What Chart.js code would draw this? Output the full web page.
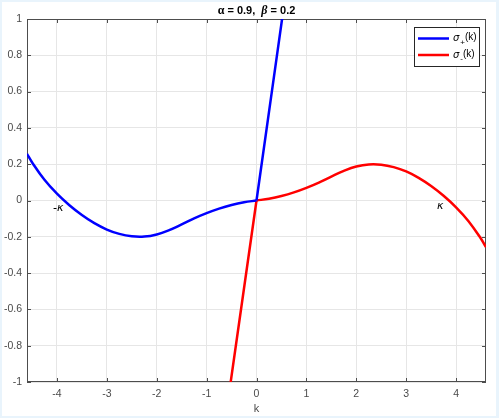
<!DOCTYPE html>
<html>
<head>
<meta charset="utf-8">
<script src="https://cdn.jsdelivr.net/npm/chart.js@4/dist/chart.umd.min.js"></script>
<style>
  html, body { margin: 0; padding: 0; background: #fff; }
  canvas { display: block; }
</style>
</head>
<body>
<canvas id="sigmaChart" width="499" height="418"></canvas>
<script>
// sigma_+ : smooth branch for k < 0, steep branch for k > 0
const kPlusCurve = [-4.6, -4.5, -4.25, -4, -3.75, -3.5, -3.25, -3, -2.75, -2.5, -2.25, -2, -1.75, -1.5, -1.25, -1, -0.75, -0.5, -0.25, 0];
const sigmaPlusCurve = [0.257, 0.211, 0.114, 0.0375, -0.026, -0.08, -0.125, -0.16, -0.184, -0.1975, -0.199, -0.187, -0.163, -0.132, -0.099, -0.07, -0.045, -0.025, -0.01, 0];
const kPlusLine = [0, 0.3, 0.6];
const sigmaPlusLine = [0, 0.585, 1.17];

// sigma_- : steep branch for k < 0, smooth branch for k > 0
const kMinusLine = [-0.6, -0.3, 0];
const sigmaMinusLine = [-1.16, -0.58, 0];
const kMinusCurve = [0, 0.25, 0.5, 0.75, 1, 1.25, 1.5, 1.75, 2, 2.25, 2.5, 2.75, 3, 3.25, 3.5, 3.75, 4, 4.25, 4.5, 4.6];
const sigmaMinusCurve = [0, 0.01, 0.025, 0.045, 0.07, 0.099, 0.132, 0.163, 0.187, 0.199, 0.1975, 0.184, 0.16, 0.125, 0.08, 0.026, -0.0375, -0.114, -0.211, -0.257];

const xTicks = [-4, -3, -2, -1, 0, 1, 2, 3, 4];
const yTicks = [-1, -0.8, -0.6, -0.4, -0.2, 0, 0.2, 0.4, 0.6, 0.8, 1];

const kappaLabels = [
    { text: '-\u03ba', k: -4.08, v: -0.04 },
    { text: '\u03ba', k: 3.62, v: -0.03 }
];

const FONT = '"Liberation Sans", Arial, sans-serif';
const AXIS_COLOR = '#4d4d4d';
const TICK_COLOR = '#4a4a4a';

function toPoints(xs, ys) {
    return xs.map((x, i) => ({ x: x, y: ys[i] }));
}

// light blue frame around the white figure
const figureBackground = {
    id: 'figureBackground',
    beforeDraw(chart) {
        const ctx = chart.ctx;
        ctx.save();
        ctx.fillStyle = '#e9f4fc';
        ctx.fillRect(0, 0, chart.width, chart.height);
        ctx.fillStyle = '#ffffff';
        ctx.fillRect(2, 2, chart.width - 5, chart.height - 4);
        ctx.restore();
    }
};

// box around the axes with inward tick marks on all four sides
const axesBox = {
    id: 'axesBox',
    beforeDatasetsDraw(chart) {
        const { ctx, chartArea: a, scales } = chart;
        ctx.save();
        ctx.strokeStyle = AXIS_COLOR;
        ctx.lineWidth = 1;
        ctx.strokeRect(a.left + 0.5, a.top + 0.5, a.right - a.left - 1, a.bottom - a.top - 1);
        ctx.beginPath();
        xTicks.forEach(t => {
            const px = Math.round(scales.x.getPixelForValue(t)) + 0.5;
            ctx.moveTo(px, a.bottom);
            ctx.lineTo(px, a.bottom - 4);
            ctx.moveTo(px, a.top);
            ctx.lineTo(px, a.top + 4);
        });
        yTicks.forEach(t => {
            const py = Math.round(scales.y.getPixelForValue(t)) + 0.5;
            ctx.moveTo(a.left, py);
            ctx.lineTo(a.left + 4, py);
            ctx.moveTo(a.right, py);
            ctx.lineTo(a.right - 4, py);
        });
        ctx.stroke();
        ctx.restore();
    }
};

// title, x label, kappa markers and legend
const annotations = {
    id: 'annotations',
    afterDraw(chart) {
        const { ctx, chartArea: a, scales } = chart;
        ctx.save();

        // title drawn piece by piece so the greek letters get their own style
        const parts = [
            { t: '\u03b1', f: 'bold 12px "Liberation Serif", serif' },
            { t: ' = 0.9,  ', f: 'bold 11px ' + FONT },
            { t: '\u03b2', f: 'italic bold 12px "Liberation Serif", serif' },
            { t: ' = 0.2', f: 'bold 11px ' + FONT }
        ];
        let total = 0;
        parts.forEach(p => { ctx.font = p.f; p.w = ctx.measureText(p.t).width; total += p.w; });
        let tx = (a.left + a.right) / 2 - total / 2;
        ctx.fillStyle = '#000';
        ctx.textBaseline = 'middle';
        ctx.textAlign = 'left';
        parts.forEach(p => { ctx.font = p.f; ctx.fillText(p.t, tx, 11); tx += p.w; });

        // x label
        ctx.font = '11px ' + FONT;
        ctx.fillStyle = TICK_COLOR;
        ctx.textAlign = 'center';
        ctx.fillText('k', (a.left + a.right) / 2, 409);

        // kappa labels
        ctx.fillStyle = '#000';
        ctx.textAlign = 'left';
        kappaLabels.forEach(l => {
            ctx.font = 'italic 11px "DejaVu Sans", sans-serif';
            ctx.fillText(l.text, scales.x.getPixelForValue(l.k), scales.y.getPixelForValue(l.v));
        });

        // legend
        const lx = 414, ly = 27, lw = 65, lh = 39;
        ctx.fillStyle = '#fff';
        ctx.fillRect(lx, ly, lw, lh);
        ctx.strokeStyle = '#262626';
        ctx.lineWidth = 1;
        ctx.strokeRect(lx + 0.5, ly + 0.5, lw, lh);
        const entries = chart.data.datasets.filter(d => d.label);
        entries.forEach((d, i) => {
            const y = 38.5 + i * 16.5;
            ctx.strokeStyle = d.borderColor;
            ctx.lineWidth = 2.5;
            ctx.beginPath();
            ctx.moveTo(418, y);
            ctx.lineTo(449, y);
            ctx.stroke();
            ctx.fillStyle = '#000';
            ctx.textBaseline = 'middle';
            ctx.font = 'italic 10px "DejaVu Sans", sans-serif';
            ctx.fillText('\u03c3', 453, y);
            const sw = ctx.measureText('\u03c3').width;
            ctx.font = '8px ' + FONT;
            ctx.fillText(d.sub, 453 + sw + 1, y + 4);
            const bw = ctx.measureText(d.sub).width;
            ctx.font = '10px ' + FONT;
            ctx.fillText('(k)', 453 + sw + bw + 1, y - 1);
        });
        ctx.restore();
    }
};

new Chart(document.getElementById('sigmaChart'), {
    type: 'scatter',
    data: {
        datasets: [
            {
                label: 'sigma_plus',
                sub: '+',
                data: toPoints(kPlusCurve, sigmaPlusCurve),
                borderColor: '#0000ff',
                tension: 0.4
            },
            {
                data: toPoints(kPlusLine, sigmaPlusLine),
                borderColor: '#0000ff',
                tension: 0
            },
            {
                label: 'sigma_minus',
                sub: '-',
                data: toPoints(kMinusCurve, sigmaMinusCurve),
                borderColor: '#ff0000',
                tension: 0.4
            },
            {
                data: toPoints(kMinusLine, sigmaMinusLine),
                borderColor: '#ff0000',
                tension: 0
            }
        ].map(d => Object.assign(d, {
            showLine: true,
            borderWidth: 2.5,
            pointRadius: 0,
            pointHoverRadius: 0,
            fill: false
        }))
    },
    options: {
        responsive: false,
        animation: false,
        events: [],
        layout: { padding: { top: 19, right: 13, left: 0, bottom: 0 } },
        plugins: {
            legend: { display: false },
            title: { display: false },
            tooltip: { enabled: false }
        },
        scales: {
            x: {
                type: 'linear',
                min: -4.6,
                max: 4.6,
                afterBuildTicks: scale => { scale.ticks = xTicks.map(v => ({ value: v })); },
                afterFit: scale => { scale.height = 36; },
                grid: { color: '#e6e6e6', drawTicks: false },
                border: { display: false },
                ticks: {
                    padding: 6,
                    color: TICK_COLOR,
                    font: { family: FONT, size: 10.5 },
                    callback: v => String(v)
                }
            },
            y: {
                type: 'linear',
                min: -1,
                max: 1,
                afterBuildTicks: scale => { scale.ticks = yTicks.map(v => ({ value: v })); },
                afterFit: scale => { scale.width = 27; },
                grid: { color: '#e6e6e6', drawTicks: false },
                border: { display: false },
                ticks: {
                    padding: 5,
                    color: TICK_COLOR,
                    font: { family: FONT, size: 10.5 },
                    callback: v => String(v)
                }
            }
        }
    },
    plugins: [figureBackground, axesBox, annotations]
});
</script>
</body>
</html>
